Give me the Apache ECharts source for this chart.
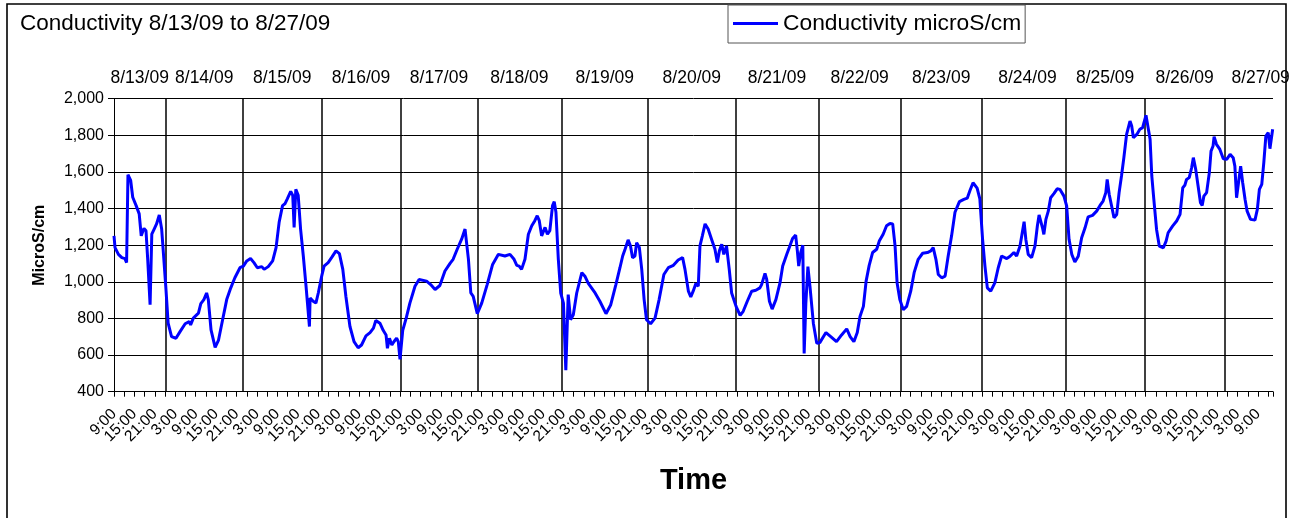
<!DOCTYPE html>
<html>
<head>
<meta charset="utf-8">
<script src="https://cdn.jsdelivr.net/npm/echarts@6/dist/echarts.min.js"></script>
<style>
html,body{margin:0;padding:0;background:#fff;}
#chart{width:1296px;height:518px;}
</style>
</head>
<body>
<div id="chart"></div>
<script>
// Hours elapsed since 8/13/09 9:00
const hours = [
0.0,0.3,1.3,2.3,3.2,3.7,4.1,4.9,5.5,6.5,7.4,8.0,8.8,9.4,9.9,10.6,11.1,11.8,12.5,13.3,14.0,14.5,15.2,15.9,16.9,18.2,19.4,20.9,22.1,22.5,23.3,24.8,25.5,26.4,27.2,27.7,28.5,29.7,30.7,31.9,33.1,34.3,35.5,37.0,38.0,39.0,40.1,41.1,42.1,43.4,44.1,45.3,46.6,47.6,48.5,49.5,50.2,50.9,51.9,52.5,52.9,53.4,54.1,54.8,55.6,56.4,57.4,57.6,58.5,59.3,60.0,61.0,61.7,62.9,63.9,65.2,66.2,67.2,68.1,69.3,70.5,71.7,72.7,74.0,75.2,76.2,76.9,78.1,79.1,79.9,80.3,80.9,81.6,82.2,83.0,83.5,84.0,84.8,85.8,86.9,88.4,89.6,
90.1,91.8,93.0,94.3,95.7,97.2,98.7,99.6,100.8,102.1,103.1,103.6,104.1,104.8,105.5,106.7,108.0,109.6,111.2,112.9,114.8,116.3,117.5,118.3,119.0,119.7,120.7,121.7,122.7,123.6,124.3,124.9,125.6,126.6,127.3,128.0,128.8,129.3,129.8,130.5,131.2,132.0,132.7,133.4,134.1,134.9,135.9,137.4,138.3,139.3,141.3,142.7,144.5,145.9,147.4,148.6,149.4,150.1,151.0,151.7,152.3,153.0,153.5,154.3,155.0,155.7,156.4,157.6,158.9,160.1,161.5,162.8,164.3,165.7,167.0,167.7,168.7,169.4,170.1,170.9,171.6,172.1,172.8,173.6,174.5,175.5,176.5,177.2,177.8,178.5,179.1,179.9,180.7,181.4,182.7,183.9,184.8,186.0,187.3,188.5,189.7,
190.2,191.2,191.7,192.5,193.3,194.4,195.6,196.4,197.6,198.5,199.3,200.2,200.7,201.1,201.7,202.3,202.7,203.2,203.8,204.4,205.4,206.4,207.3,209.1,210.5,212.2,213.7,215.2,216.2,217.3,218.3,219.1,220.1,220.9,221.8,222.8,224.0,224.8,225.9,226.9,227.9,228.7,229.4,230.0,230.8,231.8,232.8,234.0,235.0,236.2,237.5,238.9,239.9,240.6,241.4,242.1,243.1,244.1,245.0,246.0,247.0,248.3,249.6,250.6,251.4,252.3,253.5,254.3,255.1,255.8,256.5,257.5,258.7,259.7,260.7,
262.2,263.1,264.3,265.1,266.1,266.6,267.3,267.8,268.5,269.5,270.5,271.2,271.7,272.7,273.1,273.7,274.4,275.1,276.1,277.0,277.8,279.0,279.8,280.5,281.3,282.2,283.2,284.2,285.2,286.1,287.4,288.6,289.6,290.5,291.3,291.7,292.3,293.0,293.7,294.5,295.2,295.9,296.6,297.4,298.4,298.9,299.4,300.4,301.3,302.1,302.5,303.1,303.8,304.3,304.8,305.4,306.2,307.0,308.2,309.0,309.6,310.9,312.1,313.1,313.9,314.5,315.0,315.8,316.5,317.0,317.7,318.4,319.1,319.6,320.1,320.9,321.7,322.2,322.8,323.1,323.8,324.8,325.8,326.8,327.8,328.7,329.2,329.7,330.2,330.9,331.5,332.2,332.8,333.8,335.1,335.8,336.4,337.1,337.7,338.3,339.0,339.5,340.3
];
// Conductivity, microS/cm
const conductivity = [
1251,1187,1150,1132,1127,1105,1585,1554,1462,1416,1371,1251,1292,1279,1123,875,1260,1288,1316,1365,1288,1160,976,774,701,692,728,771,783,765,802,829,881,903,939,903,738,642,682,793,903,967,1022,1077,1086,1114,1127,1105,1077,1083,1068,1083,1114,1187,1325,1416,1426,1453,1494,1472,1297,1505,1472,1288,1141,976,756,912,894,884,939,1031,1086,1105,1132,1169,1154,1068,921,756,673,640,655,705,723,747,789,774,734,710,637,692,655,673,692,673,576,735,800,884,976,1013,
1016,1004,985,958,980,1059,1101,1123,1178,1233,1288,1279,1123,939,921,826,884,985,1095,1150,1141,1150,1123,1090,1086,1068,1123,1260,1306,1334,1361,1334,1251,1297,1260,1279,1416,1438,1380,1123,939,884,517,930,793,820,939,1050,1031,991,939,894,826,875,985,1077,1141,1178,1229,1196,1132,1141,1214,1187,1068,903,793,771,802,903,1040,1077,1090,1119,1132,1068,949,917,949,991,976,1196,1251,1316,1288,1233,1178,1105,1169,1205,1150,1196,1068,939,866,817,839,894,949,954,967,
985,1046,1013,894,851,903,994,1086,1150,1196,1237,1255,1169,1086,1160,1200,609,884,1083,976,774,664,668,723,701,673,710,743,701,673,723,811,866,1004,1090,1160,1178,1224,1260,1306,1319,1316,1196,994,903,848,866,949,1050,1123,1156,1160,1169,1187,1123,1040,1022,1031,1141,1251,1380,1438,1450,1457,1499,1541,1512,1453,1233,1086,967,949,994,1077,1141,
1127,1138,1160,1141,1196,1200,1328,1233,1150,1132,1196,1306,1365,1295,1259,1341,1386,1459,1483,1508,1505,1468,1414,1232,1150,1108,1140,1241,1295,1355,1363,1386,1417,1441,1487,1559,1477,1414,1350,1368,1487,1578,1678,1805,1878,1851,1787,1805,1833,1842,1869,1909,1833,1778,1578,1450,1286,1195,1186,1222,1268,1304,1332,1368,1514,1527,1559,1569,1623,1678,1614,1523,1432,1417,1468,1487,1596,1714,1742,1793,1751,1723,1672,1669,1696,1678,1632,1459,1450,1632,1541,1450,1386,1341,1337,1396,1505,1532,1651,1796,1815,1727,1833
];
// Day separator positions (hours since 8/13 9:00) and day labels
const dayLineHours = [15.1,37.9,60.9,84.2,106.7,131.4,156.9,182.5,206.9,231.1,254.8,279.4,302.8,326.1];
const dateLabels = ['8/13/09','8/14/09','8/15/09','8/16/09','8/17/09','8/18/09','8/19/09','8/20/09','8/21/09','8/22/09','8/23/09','8/24/09','8/25/09','8/26/09','8/27/09'];
const startClockHour = 9;
const xMin = 0, xMax = 340.4, xLabelStep = 6;
const yMin = 400, yMax = 2000, yStep = 200;

const FONT = "'Liberation Sans', Arial, sans-serif";
const seriesData = hours.map((h, i) => [h, conductivity[i]]);
const areaData = dateLabels.map((d, i) => {
  const from = { name: d, xAxis: i === 0 ? xMin : dayLineHours[i - 1] };
  if (i === dateLabels.length - 1) from.label = { offset: [12, 0] };
  if (i === 11) from.label = { offset: [4, 0] };
  return [from, { xAxis: i < dayLineHours.length ? dayLineHours[i] : xMax }];
});

const isLabelHour = v => Math.abs(v - Math.round(v)) < 1e-6 && Math.round(v) % xLabelStep === 0;
const clockText = v => ((startClockHour + Math.round(v)) % 24) + ':00';
const xLabelStyle = { rotate: 45, margin: 20, fontSize: 15.5, color: '#000', fontFamily: FONT };

const chart = echarts.init(document.getElementById('chart'), null, { renderer: 'canvas' });
chart.setOption({
  animation: false,
  backgroundColor: '#fff',
  textStyle: { fontFamily: FONT },
  graphic: [{
    type: 'rect', silent: true, z: -10,
    shape: { x: 7, y: 4, width: 1279, height: 620 },
    style: { fill: 'none', stroke: '#000', lineWidth: 1.6 }
  }],
  title: {
    text: 'Conductivity 8/13/09 to 8/27/09',
    left: 15, top: 7,
    textStyle: { fontFamily: FONT, fontSize: 22.5, fontWeight: 'normal', color: '#000' }
  },
  legend: {
    left: 728, top: 5,
    padding: [7, 4, 8, 5],
    borderColor: '#555', borderWidth: 1,
    itemWidth: 45, itemHeight: 3,
    textStyle: { fontFamily: FONT, fontSize: 22.8, color: '#000' },
    data: [{ name: 'Conductivity microS/cm', icon: 'rect' }]
  },
  grid: { left: 114, top: 98.7, right: 23, bottom: 126.3 },
  xAxis: [{
    type: 'value', min: xMin, max: xMax, interval: xLabelStep,
    name: 'Time', nameLocation: 'middle', nameGap: 75,
    nameTextStyle: { fontFamily: FONT, fontSize: 29, fontWeight: 'bold', color: '#000' },
    axisLine: { show: true, lineStyle: { color: '#000', width: 1 } },
    axisTick: { show: true, length: 5, lineStyle: { color: '#000' } },
    minorTick: { show: true, splitNumber: 2, length: 5, lineStyle: { color: '#000' } },
    splitLine: { show: false },
    axisLabel: Object.assign({}, xLabelStyle, {
      showMinLabel: true, showMaxLabel: false,
      formatter: v => (v > xMin && isLabelHour(v)) ? clockText(v) : ''
    })
  }, {
    // carries only the first time label at the axis start
    type: 'value', position: 'bottom', min: xMin, max: xMax, interval: xLabelStep,
    axisLine: { show: false }, axisTick: { show: false }, splitLine: { show: false },
    axisLabel: Object.assign({}, xLabelStyle, {
      showMinLabel: true, showMaxLabel: false,
      formatter: v => (v === xMin) ? clockText(v) : ''
    })
  }],
  yAxis: {
    type: 'value', min: yMin, max: yMax, interval: yStep,
    name: 'MicroS/cm', nameLocation: 'middle', nameGap: 66,
    nameTextStyle: { fontFamily: FONT, fontSize: 16, fontWeight: 'bold', color: '#000' },
    axisLine: { show: true, lineStyle: { color: '#000', width: 1 } },
    axisTick: { show: true, length: 6, lineStyle: { color: '#000' } },
    splitLine: { show: true, lineStyle: { color: '#000', width: 1 } },
    axisLabel: {
      margin: 10, fontSize: 16, color: '#000', fontFamily: FONT,
      formatter: v => v.toLocaleString('en-US')
    }
  },
  series: [{
    name: 'Conductivity microS/cm',
    type: 'line',
    xAxisIndex: 0,
    data: seriesData,
    symbol: 'none',
    clip: false,
    lineStyle: { color: '#0000FF', width: 3 },
    itemStyle: { color: '#0000FF' },
    z: 5,
    markLine: {
      silent: true, symbol: ['none', 'none'],
      label: { show: false },
      lineStyle: { color: '#000', width: 1.5, type: 'solid' },
      data: dayLineHours.map(h => ({ xAxis: h }))
    },
    markArea: {
      silent: true,
      itemStyle: { color: 'rgba(0,0,0,0)' },
      label: { show: true, position: 'top', distance: 12, color: '#000', fontSize: 17.5, fontFamily: FONT },
      data: areaData
    }
  }]
});
</script>
</body>
</html>
